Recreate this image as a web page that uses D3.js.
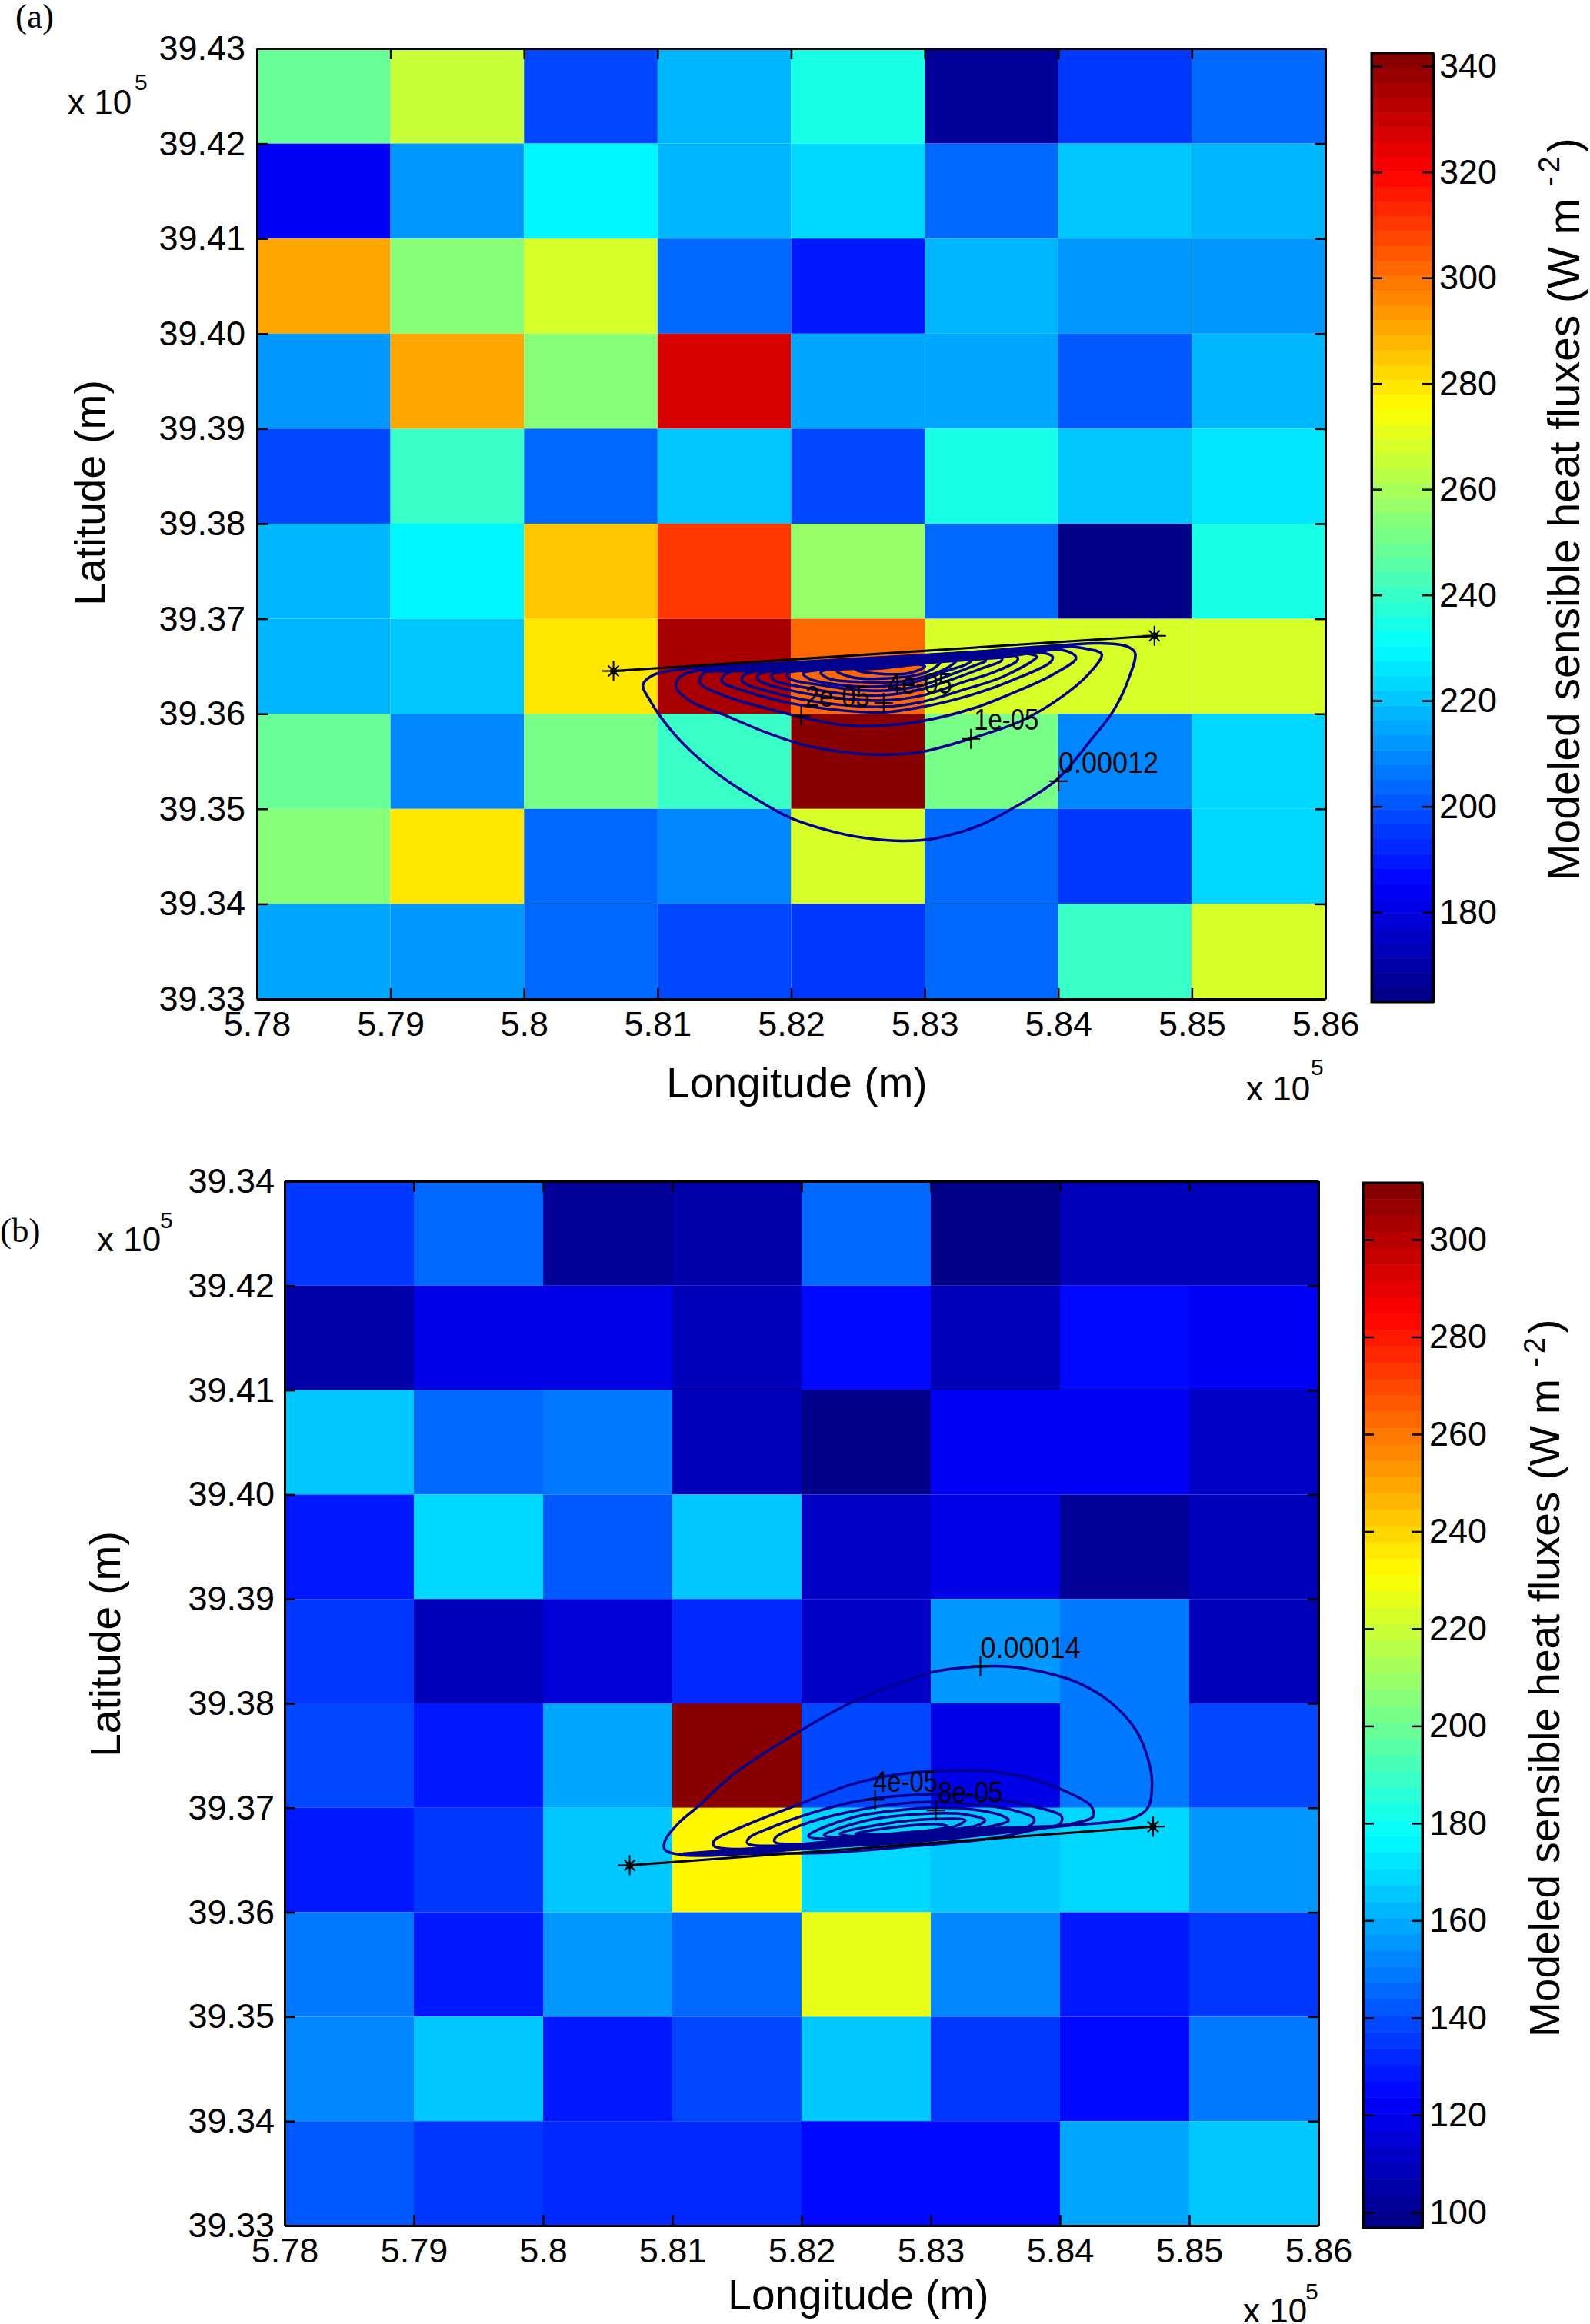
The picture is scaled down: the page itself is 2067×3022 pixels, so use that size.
<!DOCTYPE html>
<html>
<head>
<meta charset="utf-8">
<script src="https://cdnjs.cloudflare.com/ajax/libs/d3/7.8.5/d3.min.js"></script>
<style>
	body { margin: 0; background: #fff; }
	svg { display: block; }
	text { font-family: "Liberation Sans", sans-serif; fill: #000; }
</style>
</head>
<body>
<svg id="chart" width="2067" height="3022"></svg>
<script>
// Axes, values x 10^5 m
const lonTicks = [5.78, 5.79, 5.80, 5.81, 5.82, 5.83, 5.84, 5.85, 5.86];
const latTicks = [39.43, 39.42, 39.41, 39.40, 39.39, 39.38, 39.37, 39.36, 39.35, 39.34, 39.33];
const lonLabels = ['5.78', '5.79', '5.8', '5.81', '5.82', '5.83', '5.84', '5.85', '5.86'];
const latLabelsA = ['39.43', '39.42', '39.41', '39.40', '39.39', '39.38', '39.37', '39.36', '39.35', '39.34', '39.33'];
const latLabelsB = ['39.34', '39.42', '39.41', '39.40', '39.39', '39.38', '39.37', '39.36', '39.35', '39.34', '39.33'];

const colorTicksA = [340, 320, 300, 280, 260, 240, 220, 200, 180];
const colorTicksB = [300, 280, 260, 240, 220, 200, 180, 160, 140, 120, 100];
const colorDomainA = [163, 342.5];
const colorDomainB = [96.8, 311.7];

// Sensible heat flux cells, rows from the north
const heatA = [
	[248, 264, 199, 217, 234, 166, 194, 205],
	[185, 212, 228, 219, 223, 205, 221, 218],
	[290, 253, 269, 203, 189, 219, 212, 212],
	[213, 291, 253, 328, 215, 215, 201, 217],
	[199, 240, 205, 221, 198, 235, 221, 225],
	[219, 228, 286, 309, 256, 204, 165, 234],
	[219, 221, 280, 335, 303, 267, 267, 267],
	[249, 208, 251, 241, 342, 251, 208, 223],
	[254, 279, 205, 208, 267, 205, 196, 222],
	[215, 212, 203, 198, 196, 205, 241, 267]
];
const heatB = [
	[136, 147, 101, 105, 147, 97, 107, 110],
	[105, 120, 117, 110, 127, 110, 124, 123],
	[164, 144, 150, 110, 97, 121, 121, 113],
	[128, 170, 143, 167, 112, 117, 101, 110],
	[136, 110, 116, 132, 111, 156, 148, 107],
	[139, 130, 160, 311, 139, 120, 149, 138],
	[129, 134, 165, 234, 170, 164, 168, 156],
	[150, 130, 156, 147, 225, 153, 130, 134],
	[153, 167, 130, 138, 164, 136, 126, 150],
	[141, 137, 133, 133, 124, 126, 159, 164]
];

// Transect end points, same in both panels
const trackLon = [5.8067, 5.8472];
const trackLat = [39.3645, 39.3682];

// Footprint contours as [lon, lat], outermost first
const contoursA = [
	[[5.81193,39.36471],[5.80972,39.36411],[5.80890,39.36303],[5.80943,39.36141],[5.81031,39.35952],[5.81193,39.35683],[5.81458,39.35359],[5.81722,39.35116],[5.82002,39.34900],[5.82340,39.34751],[5.82605,39.34684],[5.82840,39.34662],[5.83075,39.34689],[5.83399,39.34819],[5.83663,39.35008],[5.83987,39.35305],[5.84252,39.35737],[5.84413,39.36033],[5.84531,39.36384],[5.84575,39.36641],[5.84516,39.36708],[5.84310,39.36741],[5.83575,39.36668],[5.82693,39.36595],[5.81811,39.36525]],
	[[5.81281,39.36452],[5.81163,39.36384],[5.81140,39.36276],[5.81252,39.36128],[5.81516,39.35979],[5.81811,39.35804],[5.82105,39.35669],[5.82399,39.35596],[5.82693,39.35569],[5.82987,39.35602],[5.83340,39.35737],[5.83722,39.35925],[5.84016,39.36168],[5.84222,39.36411],[5.84325,39.36627],[5.84222,39.36681],[5.84016,39.36714],[5.83281,39.36641],[5.82399,39.36560],[5.81663,39.36498]],
	[[5.81355,39.36438],[5.81316,39.36330],[5.81516,39.36182],[5.81811,39.36060],[5.82075,39.35966],[5.82399,39.35880],[5.82693,39.35877],[5.82987,39.35925],[5.83369,39.36060],[5.83663,39.36222],[5.83957,39.36411],[5.84134,39.36587],[5.84075,39.36654],[5.83869,39.36681],[5.83134,39.36614],[5.82252,39.36533]],
	[[5.81516,39.36425],[5.81481,39.36344],[5.81663,39.36236],[5.81987,39.36114],[5.82399,39.36033],[5.82693,39.36015],[5.82987,39.36074],[5.83340,39.36195],[5.83663,39.36357],[5.83943,39.36546],[5.83957,39.36600],[5.83810,39.36654],[5.82987,39.36587],[5.82252,39.36514]],
	[[5.81649,39.36411],[5.81634,39.36344],[5.81869,39.36222],[5.82252,39.36114],[5.82693,39.36074],[5.82987,39.36128],[5.83281,39.36249],[5.83575,39.36384],[5.83810,39.36560],[5.83840,39.36600],[5.83722,39.36641],[5.82987,39.36568],[5.82252,39.36498]],
	[[5.81752,39.36411],[5.81752,39.36357],[5.81987,39.36249],[5.82340,39.36168],[5.82693,39.36141],[5.82987,39.36195],[5.83281,39.36330],[5.83516,39.36438],[5.83693,39.36560],[5.83693,39.36600],[5.83605,39.36622],[5.82840,39.36546],[5.82252,39.36487]],
	[[5.81855,39.36411],[5.81869,39.36357],[5.82105,39.36276],[5.82399,39.36209],[5.82693,39.36195],[5.82987,39.36263],[5.83222,39.36371],[5.83428,39.36479],[5.83575,39.36560],[5.83575,39.36595],[5.83516,39.36614],[5.82840,39.36533],[5.82252,39.36471]],
	[[5.81972,39.36425],[5.81987,39.36371],[5.82222,39.36303],[5.82516,39.36249],[5.82752,39.36249],[5.82987,39.36303],[5.83193,39.36411],[5.83369,39.36506],[5.83457,39.36560],[5.83399,39.36595],[5.82752,39.36519],[5.82252,39.36465]],
	[[5.82090,39.36425],[5.82134,39.36371],[5.82369,39.36303],[5.82693,39.36290],[5.82987,39.36357],[5.83163,39.36452],[5.83310,39.36519],[5.83355,39.36568],[5.83281,39.36579],[5.82693,39.36506]],
	[[5.82222,39.36438],[5.82281,39.36371],[5.82516,39.36336],[5.82840,39.36344],[5.83075,39.36425],[5.83207,39.36519],[5.83237,39.36560],[5.83163,39.36568],[5.82693,39.36498]],
	[[5.82340,39.36452],[5.82458,39.36384],[5.82693,39.36371],[5.82987,39.36425],[5.83105,39.36519],[5.83119,39.36552],[5.83075,39.36546],[5.82693,39.36487]],
	[[5.82487,39.36460],[5.82634,39.36425],[5.82869,39.36425],[5.83002,39.36498],[5.82957,39.36519],[5.82693,39.36481]]
];
const contoursB = [
	[[5.80943,39.36599],[5.80943,39.36684],[5.81050,39.36856],[5.81202,39.37016],[5.81475,39.37322],[5.81992,39.37739],[5.82387,39.38009],[5.82752,39.38193],[5.83025,39.38303],[5.83359,39.38352],[5.83603,39.38352],[5.83876,39.38298],[5.84150,39.38193],[5.84393,39.38009],[5.84590,39.37739],[5.84681,39.37469],[5.84712,39.37249],[5.84681,39.37003],[5.84575,39.36905],[5.84332,39.36856],[5.83937,39.36819],[5.83481,39.36709],[5.82873,39.36635],[5.82265,39.36574],[5.81658,39.36562],[5.81080,39.36549]],
	[[5.81749,39.36606],[5.81323,39.36635],[5.81323,39.36684],[5.81566,39.36832],[5.81992,39.37040],[5.82387,39.37224],[5.82752,39.37322],[5.83056,39.37352],[5.83481,39.37347],[5.83785,39.37273],[5.84058,39.37150],[5.84241,39.37016],[5.84256,39.36917],[5.84119,39.36856],[5.83785,39.36802],[5.83177,39.36709],[5.82569,39.36648],[5.81962,39.36623]],
	[[5.81582,39.36660],[5.81591,39.36709],[5.81779,39.36819],[5.81992,39.36917],[5.82387,39.37052],[5.82752,39.37114],[5.83086,39.37126],[5.83481,39.37089],[5.83785,39.37016],[5.84013,39.36917],[5.83998,39.36844],[5.83785,39.36807],[5.83177,39.36729],[5.82569,39.36672],[5.81962,39.36640]],
	[[5.81794,39.36672],[5.81794,39.36709],[5.81992,39.36832],[5.82387,39.36966],[5.82873,39.37052],[5.83177,39.37047],[5.83633,39.36979],[5.83800,39.36893],[5.83770,39.36832],[5.83177,39.36746],[5.82569,39.36689],[5.81992,39.36655]],
	[[5.82053,39.36729],[5.82387,39.36905],[5.82873,39.36991],[5.83177,39.36998],[5.83511,39.36942],[5.83603,39.36881],[5.83481,39.36827],[5.83025,39.36763],[5.82509,39.36709]],
	[[5.82174,39.36738],[5.82509,39.36881],[5.82934,39.36942],[5.83238,39.36942],[5.83420,39.36881],[5.83359,39.36832],[5.82873,39.36763],[5.82326,39.36719]],
	[[5.82296,39.36753],[5.82630,39.36844],[5.83025,39.36893],[5.83268,39.36881],[5.83177,39.36819],[5.82752,39.36758],[5.82387,39.36729]],
	[[5.82417,39.36753],[5.82752,39.36819],[5.83056,39.36844],[5.83132,39.36819],[5.82752,39.36753]]
];

// Where the contour lines run together into one dark band
const contourBandA = [[5.81222,39.36481],[5.82693,39.36606],[5.83575,39.36676],[5.84163,39.36730],[5.83987,39.36668],[5.83575,39.36579],[5.82987,39.36519],[5.82693,39.36498],[5.82252,39.36471],[5.81811,39.36438],[5.81369,39.36433]];
const contourBandB = [[5.81080,39.36542],[5.81658,39.36562],[5.81992,39.36591],[5.82873,39.36672],[5.83481,39.36738],[5.83937,39.36802],[5.84393,39.36861],[5.83937,39.36836],[5.83481,39.36819],[5.82873,39.36770],[5.82265,39.36697],[5.81749,39.36635],[5.81080,39.36574]];

// Contour labels: text, '+' position, text start
const contourLabelsA = ['2e-05', '4e-05', '1e-05', '0.00012'];
const contourMarksA = [[5.82075, 39.35979], [5.82693, 39.36114], [5.83346, 39.35737], [5.84002, 39.35291]];
const contourTextA = [[5.82105, 39.36074], [5.82722, 39.36209], [5.83369, 39.35831], [5.84002, 39.35380]];
const contourLabelsB = ['0.00014', '4e-05', '8e-05'];
const contourMarksB = [[5.83384, 39.38357], [5.82569, 39.37077], [5.83040, 39.36974]];
const contourTextB = [[5.83384, 39.38431], [5.82554, 39.37150], [5.83055, 39.37047]];

const svg = d3.select('#chart');

// jet colormap, 64 steps like the matlab default
const jet = d3.scaleLinear()
	.domain([0, 0.125, 0.375, 0.625, 0.875, 1])
	.range(['#000080', '#0000ff', '#00ffff', '#ffff00', '#ff0000', '#800000'])
	.clamp(true);
const jetSteps = d3.range(64).map(i => jet((i + 0.5) / 64));

const TICK = 14;

function styleAxis(g) {
	g.select('.domain').attr('stroke', '#000').attr('stroke-width', 3);
	g.selectAll('.tick line').attr('stroke', '#000').attr('stroke-width', 2.5);
	g.selectAll('.tick text').style('font-family', '"Liberation Sans", sans-serif').attr('fill', '#000');
}

function drawPanel(p) {
	const g = svg.append('g');
	const x = d3.scaleLinear().domain([5.78, 5.86]).range([p.left, p.right]);
	const y = d3.scaleLinear().domain([39.43, 39.33]).range([p.top, p.bottom]);
	const color = d3.scaleQuantize().domain(p.colorDomain).range(jetSteps);

	// cells
	p.heat.forEach((row, r) => {
		row.forEach((v, c) => {
			g.append('rect')
				.attr('x', x(lonTicks[c]))
				.attr('y', y(latTicks[r]))
				.attr('width', x(lonTicks[c + 1]) - x(lonTicks[c]))
				.attr('height', y(latTicks[r + 1]) - y(latTicks[r]))
				.attr('fill', color(v));
		});
	});

	// contours
	const contourLine = d3.line()
		.x(d => x(d[0]))
		.y(d => y(d[1]))
		.curve(d3.curveCatmullRomClosed.alpha(0.5));
	g.selectAll('.contour').data(p.contours).join('path')
		.attr('class', 'contour')
		.attr('d', contourLine)
		.attr('fill', 'none')
		.attr('stroke', '#00008f')
		.attr('stroke-width', 3.5);
	g.append('path')
		.attr('d', d3.line().x(d => x(d[0])).y(d => y(d[1]))(p.band) + 'Z')
		.attr('fill', '#00008f');

	// transect with a star on each end
	const ends = trackLon.map((lon, i) => [x(lon), y(trackLat[i])]);
	g.append('path')
		.attr('d', d3.line()(ends))
		.attr('stroke', '#000')
		.attr('stroke-width', 3);
	ends.forEach(e => {
		g.append('path')
			.attr('transform', `translate(${e[0]},${e[1]})`)
			.attr('d', 'M-15 0H15M0 -13V13M-7 -7L7 7M-7 7L7 -7')
			.attr('stroke', '#000')
			.attr('stroke-width', 2);
		g.append('circle').attr('cx', e[0]).attr('cy', e[1]).attr('r', 4.5).attr('fill', '#000');
	});

	// contour labels
	p.marks.forEach(m => {
		g.append('path')
			.attr('transform', `translate(${x(m[0])},${y(m[1])})`)
			.attr('d', 'M-12 0H12M0 -13V13')
			.attr('stroke', '#000')
			.attr('stroke-width', 2);
	});
	p.labels.forEach((t, i) => {
		g.append('text')
			.attr('x', x(p.labelPos[i][0]))
			.attr('y', y(p.labelPos[i][1]))
			.style('font-size', '39px')
			.attr('textLength', t.length === 7 ? 130 : 84)
			.attr('lengthAdjust', 'spacingAndGlyphs')
			.text(t);
	});

	// axes, matlab style ticks pointing in on all four sides
	g.append('g').attr('transform', `translate(0,${p.bottom})`)
		.call(d3.axisBottom(x).tickValues(lonTicks).tickSizeInner(-TICK).tickSizeOuter(0).tickPadding(16)
			.tickFormat((d, i) => lonLabels[i]))
		.call(styleAxis)
		.selectAll('.tick text').style('font-size', '45px');
	g.append('g').attr('transform', `translate(0,${p.top})`)
		.call(d3.axisTop(x).tickValues(lonTicks).tickSizeInner(-TICK).tickSizeOuter(0).tickFormat(''))
		.call(styleAxis);
	g.append('g').attr('transform', `translate(${p.left},0)`)
		.call(d3.axisLeft(y).tickValues(latTicks).tickSizeInner(-TICK).tickSizeOuter(0).tickPadding(p.latPad)
			.tickFormat((d, i) => p.latLabels[i]))
		.call(styleAxis)
		.selectAll('.tick text').style('font-size', '45px');
	g.append('g').attr('transform', `translate(${p.right},0)`)
		.call(d3.axisRight(y).tickValues(latTicks).tickSizeInner(-TICK).tickSizeOuter(0).tickFormat(''))
		.call(styleAxis);

	// color bar
	const cy = d3.scaleLinear().domain(p.colorDomain).range([p.barBottom, p.barTop]);
	const barStep = (p.colorDomain[1] - p.colorDomain[0]) / 64;
	jetSteps.forEach((c, i) => {
		const lo = p.colorDomain[0] + i * barStep;
		g.append('rect')
			.attr('x', p.barLeft)
			.attr('y', cy(lo + barStep))
			.attr('width', p.barRight - p.barLeft)
			.attr('height', cy(lo) - cy(lo + barStep) + 0.5)
			.attr('fill', c);
	});
	g.append('g').attr('transform', `translate(${p.barRight},0)`)
		.call(d3.axisRight(cy).tickValues(p.colorTicks).tickSizeInner(-TICK).tickSizeOuter(0).tickPadding(p.barPad)
			.tickFormat(d3.format('d')))
		.call(styleAxis)
		.selectAll('.tick text').style('font-size', '45px');
	g.append('g').attr('transform', `translate(${p.barLeft},0)`)
		.call(d3.axisLeft(cy).tickValues(p.colorTicks).tickSizeInner(-TICK).tickSizeOuter(0).tickFormat(''))
		.call(styleAxis);
	g.append('rect')
		.attr('x', p.barLeft).attr('y', p.barTop)
		.attr('width', p.barRight - p.barLeft).attr('height', p.barBottom - p.barTop)
		.attr('fill', 'none').attr('stroke', '#000').attr('stroke-width', 3);

	// axis titles
	g.append('text')
		.attr('x', p.lonTitle[0]).attr('y', p.lonTitle[1])
		.attr('text-anchor', 'middle')
		.style('font-size', '55px')
		.text('Longitude (m)');
	g.append('text')
		.attr('transform', `translate(${p.latTitle[0]},${p.latTitle[1]}) rotate(-90)`)
		.attr('text-anchor', 'middle')
		.style('font-size', '55px')
		.text('Latitude (m)');
	const barTitle = g.append('text')
		.attr('transform', `translate(${p.barTitle[0]},${p.barTitle[1]}) rotate(-90)`)
		.style('font-size', p.barTitleSize + 'px');
	barTitle.append('tspan').text('Modeled sensible heat fluxes (W m ');
	barTitle.append('tspan').attr('dy', -p.barSup).style('font-size', '38px').style('letter-spacing', '5px').text('-2');
	barTitle.append('tspan').attr('dy', p.barSup).text(')');

	// x 10^5 notes
	[p.latExp, p.lonExp].forEach(e => {
		g.append('text').attr('x', e[0]).attr('y', e[1]).style('font-size', '44px').text('x 10');
		g.append('text').attr('x', e[2]).attr('y', e[3]).style('font-size', '30px').text('5');
	});

	g.append('text')
		.attr('x', p.tag[0]).attr('y', p.tag[1])
		.style('font-family', '"Liberation Serif", serif')
		.style('font-size', '45px')
		.text(p.tagText);
}

drawPanel({
	left: 334, right: 1723, top: 63, bottom: 1299,
	barLeft: 1783, barRight: 1863, barTop: 69, barBottom: 1303, barPad: 8,
	heat: heatA, contours: contoursA, band: contourBandA, colorDomain: colorDomainA, colorTicks: colorTicksA,
	latLabels: latLabelsA, latPad: 15,
	marks: contourMarksA, labels: contourLabelsA, labelPos: contourTextA,
	lonTitle: [1036, 1427], latTitle: [136, 641], barTitle: [2053, 1145], barTitleSize: 57, barSup: 26,
	latExp: [88, 148, 175, 117], lonExp: [1620, 1431, 1704, 1398],
	tag: [20, 36], tagText: '(a)'
});

drawPanel({
	left: 370, right: 1714, top: 1536, bottom: 2894,
	barLeft: 1772, barRight: 1849, barTop: 1538, barBottom: 2897, barPad: 9,
	heat: heatB, contours: contoursB, band: contourBandB, colorDomain: colorDomainB, colorTicks: colorTicksB,
	latLabels: latLabelsB, latPad: 13,
	marks: contourMarksB, labels: contourLabelsB, labelPos: contourTextB,
	lonTitle: [1116, 3003], latTitle: [156, 2138], barTitle: [2027, 2649], barTitleSize: 55, barSup: 19,
	latExp: [126, 1627, 208, 1597], lonExp: [1616, 3020, 1697, 2990],
	tag: [0, 1615], tagText: '(b)'
});
</script>
</body>
</html>
